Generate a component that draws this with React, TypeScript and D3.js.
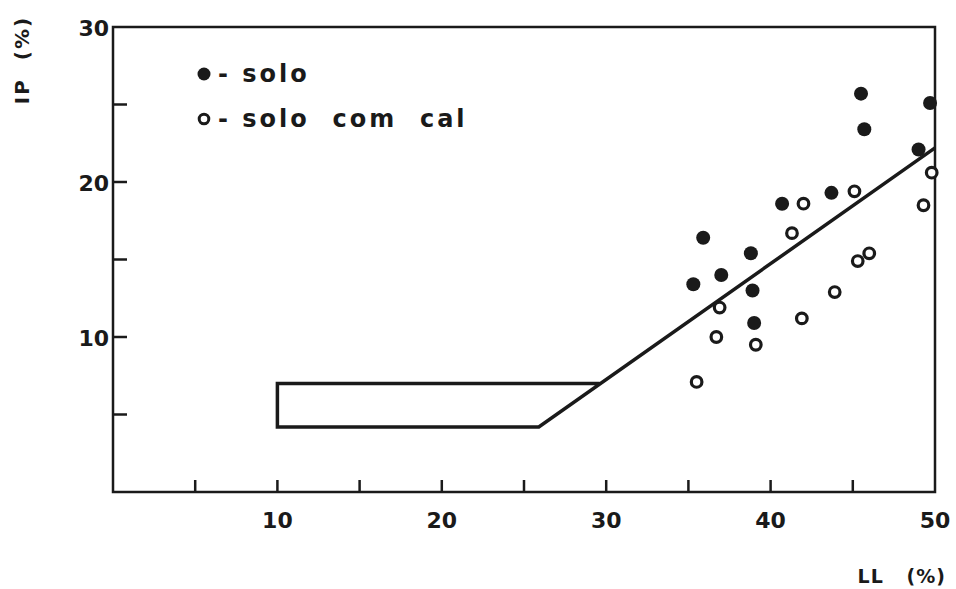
import React from "react";
import * as d3 from "d3";

const soloLL = [45.5, 45.7, 49.7, 49.0, 43.7, 40.7, 35.9, 38.8, 37.0, 35.3, 38.9, 39.0];
const soloIP = [25.7, 23.4, 25.1, 22.1, 19.3, 18.6, 16.4, 15.4, 14.0, 13.4, 13.0, 10.9];

const calLL = [45.1, 42.0, 49.8, 49.3, 41.3, 46.0, 45.3, 43.9, 36.9, 41.9, 36.7, 39.1, 35.5];
const calIP = [19.4, 18.6, 20.6, 18.5, 16.7, 15.4, 14.9, 12.9, 11.9, 11.2, 10.0, 9.5, 7.1];

// Zone outline + A-line: (29.6,7) -> (10,7) -> (10,4.2) -> (25.9,4.2) -> (50,22.2)
const lineLL = [29.6, 10, 10, 25.9, 50];
const lineIP = [7.0, 7.0, 4.2, 4.2, 22.2];

const xTicks = [5, 10, 15, 20, 25, 30, 35, 40, 45];
const xTickLabels = [10, 20, 30, 40, 50];
const yTicks = [5, 10, 15, 20, 25];
const yTickLabels = [10, 20, 30];

const W = 956;
const H = 589;

export default function App() {
  const x = d3.scaleLinear().domain([0, 50]).range([113, 935]);
  const y = d3.scaleLinear().domain([0, 30]).range([492, 27]);
  const font = "'DejaVu Sans', sans-serif";
  const lineGen = d3
    .line<number>()
    .x((d) => x(lineLL[d]))
    .y((d) => y(lineIP[d]));
  const idx = d3.range(lineLL.length);

  return (
    <svg
      width={W}
      height={H}
      style={{ position: "absolute", left: 0, top: 0, background: "#fff" }}
    >
      <rect x={0} y={0} width={W} height={H} fill="#fff" />
      {/* frame */}
      <rect
        x={x(0)}
        y={y(30)}
        width={x(50) - x(0)}
        height={y(0) - y(30)}
        fill="none"
        stroke="#1a1a1a"
        strokeWidth={2.5}
      />
      {/* x ticks */}
      {xTicks.map((t) => (
        <line
          key={"xt" + t}
          x1={x(t)}
          x2={x(t)}
          y1={y(0)}
          y2={y(0) - 12}
          stroke="#1a1a1a"
          strokeWidth={2.5}
        />
      ))}
      {xTickLabels.map((t) => (
        <text
          key={"xl" + t}
          x={x(t)}
          y={520}
          textAnchor="middle"
          dominantBaseline="central"
          fontFamily={font}
          fontWeight="bold"
          fontSize={22}
          fill="#1a1a1a"
        >
          {t}
        </text>
      ))}
      {/* y ticks */}
      {yTicks.map((t) => (
        <line
          key={"yt" + t}
          x1={x(0)}
          x2={x(0) + 14}
          y1={y(t)}
          y2={y(t)}
          stroke="#1a1a1a"
          strokeWidth={2.5}
        />
      ))}
      {yTickLabels.map((t) => (
        <text
          key={"yl" + t}
          x={109}
          y={y(t) + 1}
          textAnchor="end"
          dominantBaseline="central"
          fontFamily={font}
          fontWeight="bold"
          fontSize={22}
          fill="#1a1a1a"
        >
          {t}
        </text>
      ))}
      {/* axis titles */}
      <text
        transform="translate(22,60) rotate(-90)"
        textAnchor="middle"
        dominantBaseline="central"
        fontFamily={font}
        fontWeight="bold"
        fontSize={20}
        letterSpacing={2}
        fill="#1a1a1a"
        style={{ whiteSpace: "pre" }}
      >
        {"IP  (%)"}
      </text>
      <text
        x={946}
        y={576}
        textAnchor="end"
        dominantBaseline="central"
        fontFamily={font}
        fontWeight="bold"
        fontSize={19}
        letterSpacing={1}
        fill="#1a1a1a"
        style={{ whiteSpace: "pre" }}
      >
        {"LL   (%)"}
      </text>
      {/* zone + A-line */}
      <path
        d={lineGen(idx) || ""}
        fill="none"
        stroke="#1a1a1a"
        strokeWidth={3.5}
        strokeLinejoin="miter"
      />
      {/* points */}
      {soloLL.map((v, i) => (
        <circle
          key={"s" + i}
          cx={x(v)}
          cy={y(soloIP[i])}
          r={7}
          fill="#1a1a1a"
        />
      ))}
      {calLL.map((v, i) => (
        <circle
          key={"c" + i}
          cx={x(v)}
          cy={y(calIP[i])}
          r={5.3}
          fill="#fff"
          stroke="#1a1a1a"
          strokeWidth={3.2}
        />
      ))}
      {/* legend */}
      <circle cx={204} cy={74} r={6.5} fill="#1a1a1a" />
      <text
        x={218}
        y={74}
        dominantBaseline="central"
        fontFamily={font}
        fontWeight="bold"
        fontSize={24}
        letterSpacing={3}
        fill="#1a1a1a"
        style={{ whiteSpace: "pre" }}
      >
        {"- solo"}
      </text>
      <circle
        cx={204}
        cy={119}
        r={4.8}
        fill="#fff"
        stroke="#1a1a1a"
        strokeWidth={3}
      />
      <text
        x={218}
        y={119}
        dominantBaseline="central"
        fontFamily={font}
        fontWeight="bold"
        fontSize={24}
        letterSpacing={3}
        fill="#1a1a1a"
        style={{ whiteSpace: "pre" }}
      >
        {"- solo  com  cal"}
      </text>
    </svg>
  );
}
